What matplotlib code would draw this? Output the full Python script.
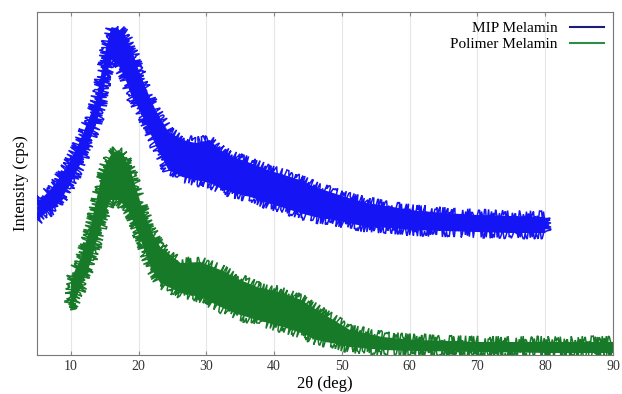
# XRD pattern: MIP Melamin vs Polimer Melamin

import matplotlib as mpl
mpl.use('Agg')
import matplotlib.pyplot as plt
import numpy as np

# 2theta positions (deg) and noise band (upper / lower intensity)
x_mip = [5, 6.5, 7.8, 9.7, 11.2, 12.6, 13.7, 14.5, 15.2, 16, 17, 18, 19, 20, 21.5,
         22.5, 24.4, 26.5, 28.4, 30.5, 32, 34, 36.5, 39, 41.5, 43.8, 46, 48.7, 51,
         53.7, 57.5, 60, 65, 70, 75, 80]
mip_hi = [152, 162, 172, 192, 212, 235, 255, 280, 308, 328, 326, 320, 305, 285, 260,
          245, 223, 215, 212, 215, 205, 198, 192, 185, 180, 175, 168, 162, 157,
          152, 148, 145, 142, 140, 139, 138]
mip_lo = [135, 143, 148, 168, 188, 212, 230, 250, 280, 295, 290, 277, 258, 247, 225,
          210, 185, 178, 175, 172, 167, 162, 158, 152, 147, 142, 138, 135, 132,
          128, 127, 125, 124, 123, 122, 122]

x_pol = [10, 10.5, 11.5, 12.9, 14.4, 15.2, 15.9, 17, 17.8, 18.8, 20.3, 21.8, 23.2,
         26.2, 29.1, 32.1, 35, 37.5, 41.3, 44, 46.3, 51.2, 56, 61, 70.7, 80.6, 90]
pol_hi = [73, 83, 98, 128, 175, 192, 200, 205, 200, 185, 152, 125, 108,
          92, 93, 85, 75, 68, 62, 55, 45, 25, 18, 15, 13, 13, 13]
pol_lo = [45, 53, 68, 92, 128, 145, 155, 155, 150, 140, 115, 87, 72,
          62, 58, 48, 40, 35, 28, 22, 15, 8, 5, 4, 3, 2, 2]

xticks = [10, 20, 30, 40, 50, 60, 70, 80, 90]

c_mip = '#1414f5'
c_pol = '#177a28'

fig = plt.figure(figsize=(6.22, 3.94), dpi=100)
ax = fig.add_axes([0.0595, 0.099, 0.926, 0.8705])

# noisy bands as polygons, edges roughened with a sketch style to mimic counting noise
for xs, lo, hi, c in [(x_mip, mip_lo, mip_hi, c_mip), (x_pol, pol_lo, pol_hi, c_pol)]:
    px = list(xs) + list(xs)[::-1]
    py = list(hi) + list(lo)[::-1]
    ax.fill(px, py, color=c, lw=0, zorder=2)
    edge, = ax.fill(px, py, facecolor='none', edgecolor=c, lw=1.1, zorder=3)
    edge.set_sketch_params(scale=6, length=1.2, randomness=3)

# legend handles
ax.plot([], [], color='#1c1c7a', lw=1.5, label='MIP Melamin')
ax.plot([], [], color='#2e8b4a', lw=1.5, label='Polimer Melamin')
leg = ax.legend(loc='upper right', frameon=False, markerfirst=False,
                prop={'family': 'Liberation Serif', 'size': 11},
                handlelength=2.2, labelspacing=0.15, borderaxespad=0.2)

ax.set_xlim(5, 90)
ax.set_ylim(0, 343)
ax.set_xticks(xticks)
ax.set_xticklabels([str(t) for t in xticks], family='Liberation Serif', fontsize=10,
                   color='#333333')
ax.set_yticks([])
ax.tick_params(axis='x', direction='in', top=True, length=3, color='#888888')
ax.grid(axis='x', color='#e6e6e6', lw=0.8)
ax.set_axisbelow(True)
for s in ax.spines.values():
    s.set_color('#777777')

ax.set_xlabel('2θ (deg)', family='Liberation Serif', fontsize=12, labelpad=2)
ax.set_ylabel('Intensity (cps)', family='Liberation Serif', fontsize=12, labelpad=6)

plt.savefig('out.png', dpi=100)
plt.close()
